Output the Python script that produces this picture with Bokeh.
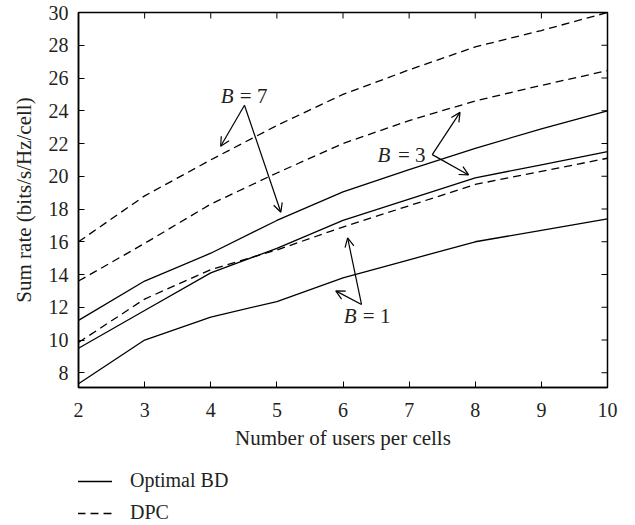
import math
from bokeh.plotting import figure
from bokeh.layouts import column
from bokeh.models import (FixedTicker, Range1d, Legend, LegendItem,
                          Arrow, OpenHead, Label)
from bokeh.embed import file_html
from bokeh.resources import INLINE

# ---- data ----
users = [2, 3, 4, 5, 6, 7, 8, 9, 10]
opt_b1 = [7.33, 10.0, 11.4, 12.35, 13.8, 14.9, 16.0, 16.7, 17.4]
opt_b3 = [9.5, 11.8, 14.1, 15.6, 17.3, 18.6, 19.9, 20.7, 21.5]
opt_b7 = [11.2, 13.6, 15.3, 17.3, 19.05, 20.4, 21.7, 22.9, 24.0]
dpc_b1 = [9.85, 12.5, 14.3, 15.5, 16.9, 18.2, 19.5, 20.3, 21.1]
dpc_b3 = [13.6, 15.9, 18.3, 20.2, 22.0, 23.4, 24.6, 25.55, 26.45]
dpc_b7 = [16.0, 18.8, 21.0, 23.1, 25.0, 26.5, 27.9, 28.9, 30.0]
x_ticks = [2, 3, 4, 5, 6, 7, 8, 9, 10]
y_ticks = [8, 10, 12, 14, 16, 18, 20, 22, 24, 26, 28, 30]
x_min, x_max = 2, 10
y_min, y_max = 7.1, 30
series_names = ["Optimal BD", "DPC"]

# annotation labels (B value, text anchor, arrow origin, arrow tips) in data units
b_labels = ["7", "3", "1"]
b_text_x = [4.15, 6.52, 6.01]
b_eq_x = [4.44, 6.83, 6.30]
b_text_y = [24.9, 21.32, 11.46]
arrow_from = [(4.51, 24.34), (7.35, 21.32), (6.28, 12.17)]
arrow_to = [[(4.15, 21.83), (5.06, 17.80)],
            [(7.77, 23.90), (7.90, 20.08)],
            [(6.07, 16.23), (5.89, 13.00)]]

FONT = "Liberation Serif"
TXT = "#231f20"
DASH = "8 5"

p = figure(width=630, height=460, output_backend="svg", toolbar_location=None,
           x_range=Range1d(x_min, x_max), y_range=Range1d(y_min, y_max),
           min_border_left=78, min_border_right=23, min_border_top=12,
           min_border_bottom=73)
p.grid.visible = False
p.outline_line_color = "black"
p.outline_line_width = 1.5
p.background_fill_color = "white"
p.border_fill_color = "white"

for ax in (p.xaxis[0], p.yaxis[0]):
    ax.axis_line_color = "black"
    ax.axis_line_width = 1.5
    ax.major_tick_in = 6
    ax.major_tick_out = 0
    ax.major_tick_line_color = "black"
    ax.major_tick_line_width = 1
    ax.minor_tick_line_color = None
    ax.major_label_text_font = FONT
    ax.major_label_text_color = TXT
    ax.major_label_text_font_size = "20px"
    ax.axis_label_text_font = FONT
    ax.axis_label_text_font_style = "normal"
    ax.axis_label_text_color = TXT
    ax.axis_label_text_font_size = "21px"

p.xaxis.ticker = FixedTicker(ticks=x_ticks)
p.yaxis.ticker = FixedTicker(ticks=y_ticks)
p.xaxis.axis_label = "Number of users per cells"
p.yaxis.axis_label = "Sum rate (bits/s/Hz/cell)"
p.xaxis.major_label_standoff = 15
p.xaxis.axis_label_standoff = 6
p.yaxis.major_label_standoff = 10
p.yaxis.axis_label_standoff = 10

# inward ticks on the top and right edges of the box
p.ray(x=x_ticks, y=[y_max] * len(x_ticks), length=6, length_units="screen",
      angle=-math.pi / 2, line_color="black", line_width=1)
p.ray(x=[x_max] * len(y_ticks), y=y_ticks, length=6, length_units="screen",
      angle=math.pi, line_color="black", line_width=1)

for ys in (opt_b1, opt_b3, opt_b7):
    p.line(users, ys, line_color="black", line_width=1.3)
for ys in (dpc_b1, dpc_b3, dpc_b7):
    p.line(users, ys, line_color="black", line_width=1.3, line_dash=DASH)

for i, b in enumerate(b_labels):
    p.add_layout(Label(x=b_text_x[i], y=b_text_y[i], text="B",
                       text_font=FONT, text_font_style="italic",
                       text_font_size="21px", text_color=TXT,
                       text_baseline="middle", text_align="left"))
    p.add_layout(Label(x=b_eq_x[i], y=b_text_y[i], text="= " + b,
                       text_font=FONT, text_font_size="21px", text_color=TXT,
                       text_baseline="middle", text_align="left"))
    x0, y0 = arrow_from[i]
    for (x1, y1) in arrow_to[i]:
        p.add_layout(Arrow(x_start=x0, y_start=y0, x_end=x1, y_end=y1,
                           line_color="black", line_width=1.2,
                           end=OpenHead(size=9, line_color="black",
                                        line_width=1.2)))

# ---- legend strip under the chart (its own lines lie outside its view) ----
lg = figure(width=630, height=65, output_backend="svg", toolbar_location=None,
            x_range=Range1d(-1, 0), y_range=Range1d(-1, 0),
            x_axis_location=None, y_axis_location=None,
            min_border_left=0, min_border_right=0, min_border_top=0,
            min_border_bottom=0)
lg.grid.visible = False
lg.outline_line_color = None
lg.background_fill_color = "white"
lg.border_fill_color = "white"
r_solid = lg.line(users, opt_b1, line_color="black", line_width=1.3)
r_dash = lg.line(users, dpc_b1, line_color="black", line_width=1.3,
                 line_dash=DASH)
legend = Legend(items=[LegendItem(label=series_names[0], renderers=[r_solid]),
                       LegendItem(label=series_names[1], renderers=[r_dash])],
                location=(-1, 1), orientation="vertical",
                padding=0, margin=0, spacing=9,
                glyph_width=35, glyph_height=20, label_height=20,
                label_standoff=18, label_text_font=FONT,
                label_text_font_size="20px", label_text_color=TXT,
                border_line_alpha=0, background_fill_alpha=0)
lg.add_layout(legend, "center")

layout = column(p, lg, spacing=0)
open("out.html", "w").write(file_html(layout, INLINE))
